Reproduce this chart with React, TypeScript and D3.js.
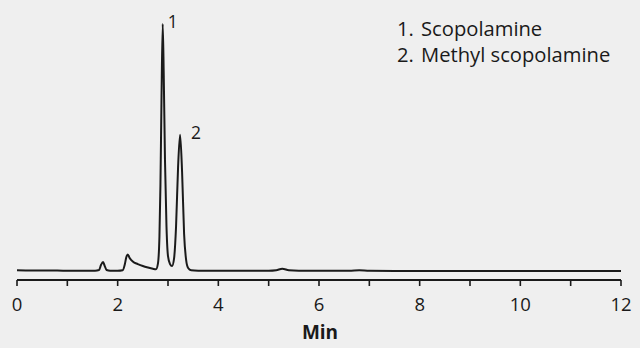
import React from "react";
import * as d3 from "d3";

// Chromatogram trace (time in min, signal in relative units)
const times = [
  0, 0.3, 0.6, 1.0, 1.3, 1.55, 1.63, 1.67, 1.71, 1.74, 1.78, 1.85, 2.0, 2.1, 2.14, 2.17, 2.2, 2.24, 2.3,
  2.4, 2.5, 2.6, 2.7, 2.76, 2.8, 2.83, 2.85, 2.87, 2.895, 2.915, 2.94, 2.97, 3.0, 3.04, 3.08,
  3.12, 3.16, 3.2, 3.24, 3.28, 3.32, 3.36, 3.4, 3.46, 3.6, 4.0, 4.5, 5.0, 5.15, 5.27, 5.4, 5.6,
  6.0, 6.6, 6.8, 7.0, 7.5, 8.0, 9.0, 10.0, 10.5, 11.0, 11.5, 12.0,
];
const signal = [
  0.3, 0.2, 0.25, 0.1, 0.1, 0.1, 0.4, 2.5, 3.6, 2.2, 0.4, 0.1, 0.1, 0.3, 2.5, 5.5, 6.7, 5.2, 3.8,
  2.8, 2.0, 1.4, 0.9, 0.7, 3, 14, 35, 68, 100, 80, 45, 18, 6, 2.8, 2.0,
  5, 18, 42, 55.2, 40, 15, 4.5, 1.2, 0.3, 0.15, 0.1, 0.1, 0.1, 0.3, 0.9, 0.3, 0.1,
  0.1, 0.1, 0.35, 0.1, 0.05, 0.05, 0.05, 0.05, 0.05, 0.05, 0.05, 0.05,
];
const majorTicks = [0, 2, 4, 6, 8, 10, 12];
const minorTicks = [1, 3, 5, 7, 9, 11];
const peakLabels = ["1", "2"];
const peakTimes = [2.895, 3.24];
const peakHeights = [100, 55.2];
const legendNumbers = ["1.", "2."];
const legendNames = ["Scopolamine", "Methyl scopolamine"];
const xTitle = "Min";

const W = 640;
const H = 348;
const FONT = "'Open Sans', 'Noto Sans', sans-serif";
const INK = "#1a1a1a";

export default function App() {
  const x = d3.scaleLinear().domain([0, 12]).range([17, 621]);
  const y = d3.scaleLinear().domain([0, 100]).range([271, 24]);
  const axisY = 280;
  const labelDx = [10, 16];

  const data = times.map((t, i) => [t, signal[i]] as [number, number]);
  const line = d3
    .line<[number, number]>()
    .x((d) => x(d[0]))
    .y((d) => y(d[1]))
    .curve(d3.curveMonotoneX);

  return (
    <svg width={W} height={H} style={{ position: "absolute", left: 0, top: 0, background: "#efefef" }}>
      <rect x={0} y={0} width={W} height={H} fill="#efefef" />
      <path d={line(data) || ""} fill="none" stroke={INK} strokeWidth={2} strokeLinejoin="round" />
      <line x1={x(0)} x2={x(12)} y1={axisY} y2={axisY} stroke={INK} strokeWidth={2} />
      {majorTicks.concat(minorTicks).map((t) => (
        <line key={"t" + t} x1={x(t)} x2={x(t)} y1={axisY} y2={axisY + 6} stroke={INK} strokeWidth={1.6} />
      ))}
      {majorTicks.map((t) => (
        <text key={"l" + t} x={x(t)} y={310.5} textAnchor="middle" fontFamily={FONT} fontSize={18.5} fill={INK}>
          {t}
        </text>
      ))}
      <text x={320} y={339} textAnchor="middle" fontFamily={FONT} fontSize={19} fontWeight="bold" fill={INK}>
        {xTitle}
      </text>
      {peakLabels.map((l, i) => (
        <text
          key={"p" + l}
          x={x(peakTimes[i]) + labelDx[i]}
          y={y(peakHeights[i]) + 4}
          textAnchor="middle"
          fontFamily={FONT}
          fontSize={17.5}
          fill={INK}
        >
          {l}
        </text>
      ))}
      {legendNames.map((s, i) => (
        <g key={"g" + i}>
          <text x={397} y={36 + i * 26} fontFamily={FONT} fontSize={20.2} fill={INK}>
            {legendNumbers[i]}
          </text>
          <text x={421} y={36 + i * 26} fontFamily={FONT} fontSize={20.2} fill={INK}>
            {s}
          </text>
        </g>
      ))}
    </svg>
  );
}
